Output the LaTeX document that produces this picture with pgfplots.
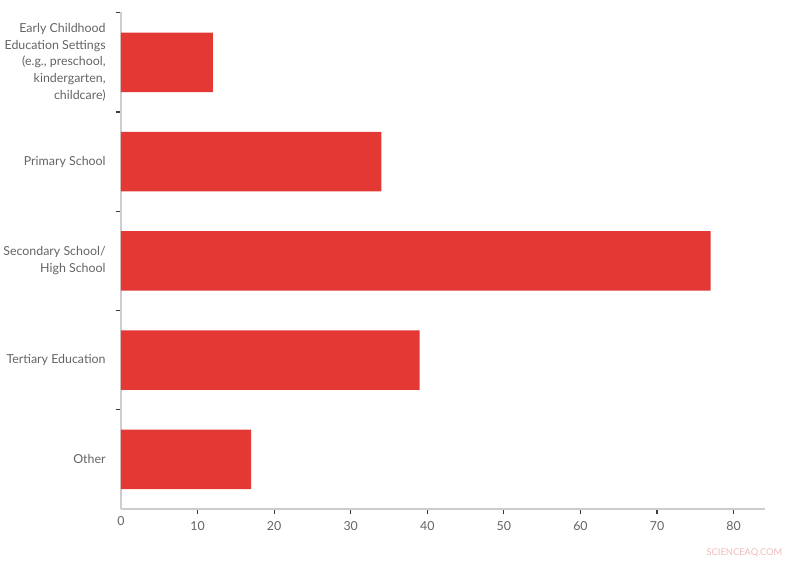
\documentclass[border=0pt]{standalone}
\usepackage{pgfplots}
\pgfplotsset{compat=1.18}
\usepackage{fontspec}
\setmainfont{Lato}
\definecolor{barred}{RGB}{228,56,53}
\definecolor{lbl}{RGB}{100,100,100}
\definecolor{axgray}{RGB}{205,205,205}
\definecolor{tickc}{RGB}{60,60,60}
\definecolor{wm}{RGB}{240,185,190}
\begin{document}
\begin{tikzpicture}[x=0.75pt,y=0.75pt]
\useasboundingbox (0,0) rectangle (800,564);
\begin{axis}[
  at={(121*0.75pt,55*0.75pt)}, anchor=south west,
  scale only axis, width=483pt, height=373pt,
  xbar, bar width=0.6,
  xmin=0, xmax=84.1, ymin=-0.51, ymax=4.5, y dir=reverse,
  axis x line*=bottom, axis y line*=left,
  axis line style={axgray, line width=0.8pt, -},
  xtick={10,20,...,80},
  extra x ticks={0}, extra x tick style={major tick length=0pt},
  ytick={0,1,2,3,4},
  yticklabels={{Early Childhood\\Education Settings\\(e.g., preschool,\\kindergarten,\\childcare)},{Primary School},{Secondary School/\\High School},{Tertiary Education},{Other}},
  minor ytick={-0.5,0.5,1.5,2.5,3.5},
  tick align=outside,
  major tick length=4pt, minor tick length=4pt,
  tick style={tickc, line width=0.9pt},
  major y tick style={draw=none},
  x tick style={tickc, line width=0.9pt},
  yticklabel style={align=right, font=\fontsize{9.3}{12.6}\selectfont, text=lbl, xshift=-4pt},
  xticklabel style={font=\fontsize{9.3}{11}\selectfont, text=lbl, yshift=-2pt},
  /pgf/number format/assume math mode=true,
  clip=false,
]
\addplot[fill=barred, draw=none] coordinates {(12,0) (34,1) (77,2) (39,3) (17,4)};
\end{axis}
\node[anchor=east, text=wm, font=\fontsize{7}{8}\selectfont] at (787,11) {SCIENCEAQ.COM};
\end{tikzpicture}
\end{document}
